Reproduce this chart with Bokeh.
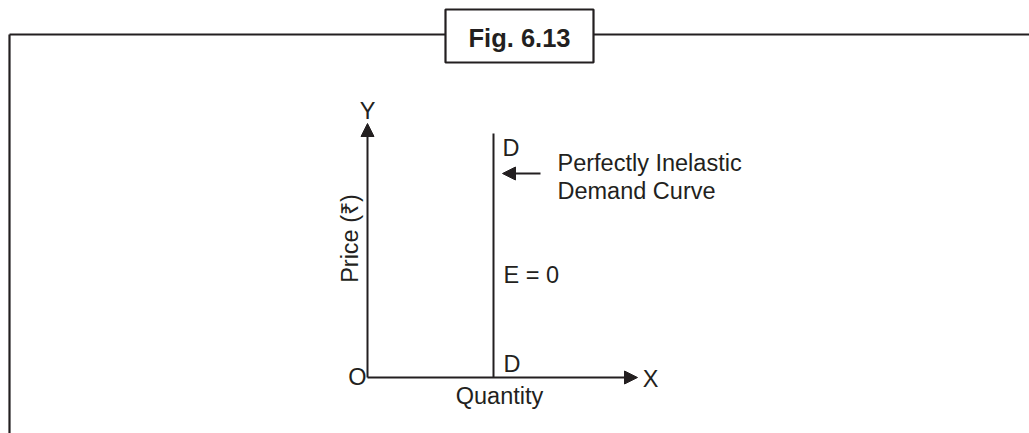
import math
from bokeh.plotting import figure
from bokeh.models import Range1d, Arrow, NormalHead, ColumnDataSource
from bokeh.core.properties import value
from bokeh.embed import file_html
from bokeh.resources import INLINE

# ---- diagram data (units: pixels measured from the origin O) ----
demand_x = [126, 126]          # perfectly inelastic demand: fixed quantity
demand_y = [0, 244]            # any price
x_axis_end = [270]
y_axis_end = [254]
pointer_from = [173, 204]
pointer_to = [135, 204]

label_text = ["Y", "X", "O", "D", "D", "E = 0"]
label_x = [0, 283, -10, 135, 136, 136]
label_y = [267, -1, 1, 230, 14, 103]
label_align = ["center", "center", "center", "left", "left", "left"]

note_text = ["Perfectly Inelastic", "Demand Curve"]
note_x = [190, 190]
note_y = [215, 187]

title_text = "Fig. 6.13"

INK = "#231F20"
FONT = "Liberation Sans"
FS = "23.5px"

p = figure(width=1029, height=433, output_backend="svg", toolbar_location=None,
           x_range=Range1d(-367, 662), y_range=Range1d(-56, 377),
           min_border=0, outline_line_color=None)
p.axis.visible = False
p.grid.visible = False
p.background_fill_color = "white"
p.border_fill_color = "white"

# frame
p.line([-358, -358], [-70, 343], line_color=INK, line_width=2.2)
p.line([-358, 78], [343, 343], line_color=INK, line_width=2.2)
p.line([226, 700], [343, 343], line_color=INK, line_width=2.2)
p.quad(left=[78], right=[226], bottom=[315], top=[368], fill_color="white",
       line_color=INK, line_width=2.2)
p.text(x=[152], y=[340], text=[title_text], text_font=value(FONT),
       text_font_size="25.5px", text_font_style="bold", text_color=INK,
       text_align="center", text_baseline="middle")

# axes
p.add_layout(Arrow(end=NormalHead(size=13, fill_color=INK, line_color=INK),
                   x_start=0, y_start=0, x_end=0, y_end=y_axis_end[0],
                   line_color=INK, line_width=2))
p.add_layout(Arrow(end=NormalHead(size=13, fill_color=INK, line_color=INK),
                   x_start=0, y_start=0, x_end=x_axis_end[0], y_end=0,
                   line_color=INK, line_width=2))

# demand curve
p.line(demand_x, demand_y, line_color=INK, line_width=2)

# pointer arrow
p.add_layout(Arrow(end=NormalHead(size=13, fill_color=INK, line_color=INK),
                   x_start=pointer_from[0], y_start=pointer_from[1],
                   x_end=pointer_to[0], y_end=pointer_to[1],
                   line_color=INK, line_width=2))

src = ColumnDataSource(dict(x=label_x, y=label_y, text=label_text, align=label_align))
p.text(x="x", y="y", text="text", source=src, text_align="align",
       text_baseline="middle", text_font=value(FONT), text_font_size=FS,
       text_color=INK)

p.text(x=note_x, y=note_y, text=note_text, text_align="left",
       text_baseline="middle", text_font=value(FONT), text_font_size=FS,
       text_color=INK)

p.text(x=[132], y=[-18], text=["Quantity"], text_align="center",
       text_baseline="middle", text_font=value(FONT), text_font_size=FS,
       text_color=INK)

p.text(x=[-18], y=[139], text=["Price (₹)"], angle=math.pi / 2,
       text_align="center", text_baseline="middle", text_font=value(FONT),
       text_font_size=FS, text_color=INK)

open("out.html", "w").write(file_html(p, INLINE))
